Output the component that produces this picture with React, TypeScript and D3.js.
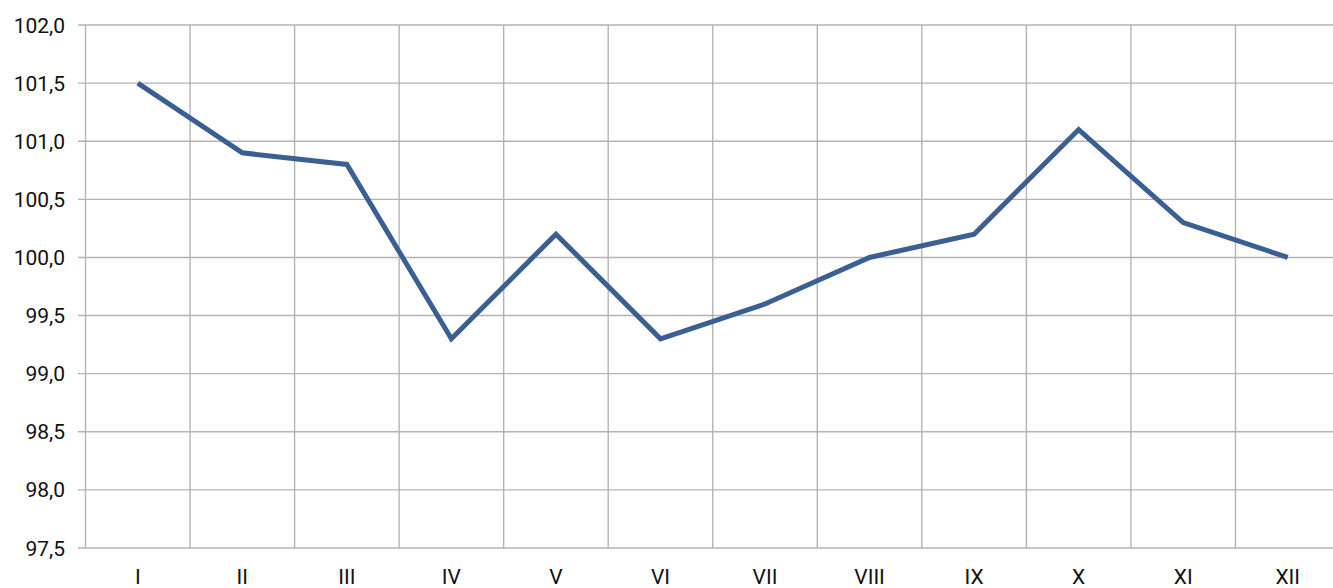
import * as d3 from 'd3';

const months = ['I', 'II', 'III', 'IV', 'V', 'VI', 'VII', 'VIII', 'IX', 'X', 'XI', 'XII'];
const values = [101.5, 100.9, 100.8, 99.3, 100.2, 99.3, 99.6, 100.0, 100.2, 101.1, 100.3, 100.0];
const yTicks = [97.5, 98.0, 98.5, 99.0, 99.5, 100.0, 100.5, 101.0, 101.5, 102.0];

const WIDTH = 1333;
const HEIGHT = 588;
const MARGIN = { top: 25, left: 85.5, bottom: 40 };
const PLOT_RIGHT = 1340;

export default function App() {
  const xScale = d3.scaleBand().domain(months).range([MARGIN.left, PLOT_RIGHT]);
  const yScale = d3.scaleLinear().domain([97.5, 102]).range([HEIGHT - MARGIN.bottom, MARGIN.top]);

  const line = d3
    .line<number>()
    .x((_, i) => (xScale(months[i]) ?? 0) + xScale.bandwidth() / 2)
    .y(d => yScale(d));

  const fmt = (v: number) => v.toFixed(1).replace('.', ',');
  const bottom = yScale(97.5);

  return (
    <svg
      width={WIDTH}
      height={HEIGHT}
      style={{ position: 'absolute', left: 0, top: 0, background: '#fff' }}
      fontFamily="Roboto, sans-serif"
    >
      {/* horizontal grid + y labels */}
      {yTicks.map(t => (
        <g key={t}>
          <line x1={78} x2={PLOT_RIGHT} y1={yScale(t)} y2={yScale(t)} stroke="#b3b3b3" strokeWidth={1.4} />
          <text x={65} y={yScale(t)} dy="0.36em" textAnchor="end" fontSize={21} fill="#111">
            {fmt(t)}
          </text>
        </g>
      ))}
      {/* vertical grid */}
      {months.map(m => (
        <line
          key={m}
          x1={xScale(m)}
          x2={xScale(m)}
          y1={MARGIN.top}
          y2={bottom}
          stroke="#b3b3b3"
          strokeWidth={1.4}
        />
      ))}
      {months.map(m => (
        <text
          key={'l' + m}
          x={(xScale(m) ?? 0) + xScale.bandwidth() / 2}
          y={bottom + 36}
          textAnchor="middle"
          fontSize={21}
          fill="#111"
        >
          {m}
        </text>
      ))}
      <path d={line(values) ?? ''} fill="none" stroke="#3a5f93" strokeWidth={5} strokeLinejoin="miter" />
    </svg>
  );
}
